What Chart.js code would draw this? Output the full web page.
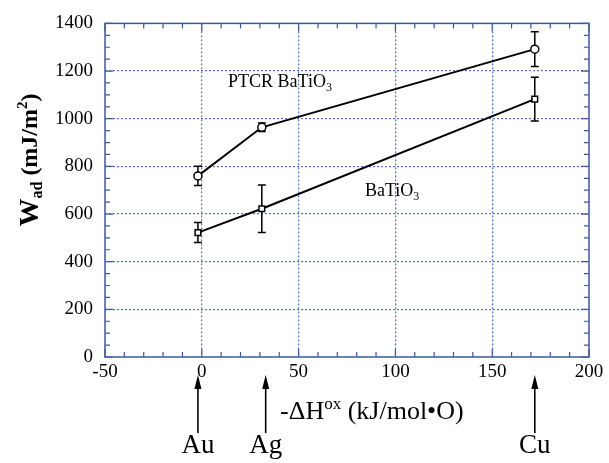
<!DOCTYPE html>
<html>
<head>
<meta charset="utf-8">
<script src="https://cdn.jsdelivr.net/npm/chart.js@4.4.1/dist/chart.umd.min.js"></script>
<style>
  html, body { margin: 0; padding: 0; background: #fff; }
  #wrap { width: 609px; height: 463px; }
</style>
</head>
<body>
<div id="wrap"><canvas id="wadChart" width="609" height="463"></canvas></div>
<script>
// ==== data ====
const metals = ['Au', 'Ag', 'Cu'];
const dHox = [-2, 31, 172];              // -dH ox, kJ/mol O
const arrowX = [-2, 33, 172];            // where the metal arrows sit
const ptcrWad = [760, 964, 1292];        // PTCR BaTiO3
const ptcrErr = [40, 18, 73];
const batioWad = [522, 622, 1082];       // BaTiO3
const batioErr = [42, 100, 92];
const xTicks = [-50, 0, 50, 100, 150, 200];
const yTicks = [0, 200, 400, 600, 800, 1000, 1200, 1400];

const BLUE = '#3a58a6';
const GRID = '#4f72c8';
const SERIF = "'Liberation Serif', 'DejaVu Serif', serif";

const toPoints = (xs, ys) => xs.map((x, i) => ({ x: x, y: ys[i] }));

// draws a run of text pieces (sub/superscripts) starting at x
function drawRich(c, parts, x, y, centered) {
  let total = 0;
  parts.forEach(p => { c.font = p.font; total += c.measureText(p.text).width; });
  let cx = centered ? x - total / 2 : x;
  parts.forEach(p => {
    c.font = p.font;
    c.fillText(p.text, cx, y + (p.dy || 0));
    cx += c.measureText(p.text).width;
  });
}

// ==== error bars, frame, minor ticks, labels ====
const decorPlugin = {
  id: 'decor',
  beforeDatasetsDraw(chart) {
    const c = chart.ctx;
    const xs = chart.scales.x, ys = chart.scales.y;
    c.save();
    c.strokeStyle = '#000';
    c.lineWidth = 1.5;
    [[ptcrWad, ptcrErr], [batioWad, batioErr]].forEach(([vals, errs]) => {
      vals.forEach((v, i) => {
        const px = xs.getPixelForValue(dHox[i]);
        const top = ys.getPixelForValue(v + errs[i]);
        const bot = ys.getPixelForValue(v - errs[i]);
        c.beginPath();
        c.moveTo(px, top); c.lineTo(px, bot);
        c.moveTo(px - 4, top); c.lineTo(px + 4, top);
        c.moveTo(px - 4, bot); c.lineTo(px + 4, bot);
        c.stroke();
      });
    });
    c.restore();
  },
  afterDraw(chart) {
    const c = chart.ctx;
    const a = chart.chartArea;
    const xs = chart.scales.x, ys = chart.scales.y;
    c.save();

    // frame
    c.strokeStyle = BLUE;
    c.lineWidth = 1.5;
    c.strokeRect(a.left, a.top, a.right - a.left, a.bottom - a.top);

    // inward ticks on all four sides
    c.lineWidth = 1.2;
    c.beginPath();
    for (let v = -50; v <= 200; v += 10) {
      const px = xs.getPixelForValue(v);
      const len = v % 50 === 0 ? 8 : 5;
      c.moveTo(px, a.bottom); c.lineTo(px, a.bottom - len);
      c.moveTo(px, a.top); c.lineTo(px, a.top + len);
    }
    for (let v = 0; v <= 1400; v += 50) {
      const py = ys.getPixelForValue(v);
      const len = v % 200 === 0 ? 8 : 5;
      c.moveTo(a.left, py); c.lineTo(a.left + len, py);
      c.moveTo(a.right, py); c.lineTo(a.right - len, py);
    }
    c.stroke();

    c.fillStyle = '#000';
    c.textBaseline = 'middle';

    // curve labels
    drawRich(c, [
      { text: 'PTCR BaTiO', font: '18px ' + SERIF },
      { text: '3', font: '12px ' + SERIF, dy: 6 }
    ], 228, 82, false);
    drawRich(c, [
      { text: 'BaTiO', font: '18px ' + SERIF },
      { text: '3', font: '12px ' + SERIF, dy: 6 }
    ], 365, 191, false);

    // x title
    drawRich(c, [
      { text: '-\u0394H', font: '26px ' + SERIF },
      { text: 'ox', font: '17px ' + SERIF, dy: -7 },
      { text: ' (kJ/mol\u2022O)', font: '26px ' + SERIF }
    ], 280, 412, false);

    // metal arrows and names
    c.strokeStyle = '#000';
    c.lineWidth = 1.6;
    c.textAlign = 'left';
    arrowX.forEach((v, i) => {
      const px = xs.getPixelForValue(v);
      c.beginPath();
      c.moveTo(px, 382); c.lineTo(px, 433);
      c.stroke();
      c.beginPath();
      c.moveTo(px, 375); c.lineTo(px - 3.5, 389); c.lineTo(px + 3.5, 389);
      c.closePath();
      c.fill();
      drawRich(c, [{ text: metals[i], font: '27px ' + SERIF }], px, 446, true);
    });

    // y title, rotated
    c.translate(31, 160);
    c.rotate(-Math.PI / 2);
    drawRich(c, [
      { text: 'W', font: 'bold 28px ' + SERIF },
      { text: 'ad', font: 'bold 16px ' + SERIF, dy: 7 },
      { text: ' (mJ/m', font: 'bold 24px ' + SERIF },
      { text: '2', font: 'bold 15px ' + SERIF, dy: -8 },
      { text: ')', font: 'bold 24px ' + SERIF }
    ], 0, 0, true);

    c.restore();
  }
};

const gridColor = (ctx) => {
  const v = ctx.tick ? ctx.tick.value : null;
  const edge = ctx.scale.axis === 'x' ? (v === -50 || v === 200) : (v === 0 || v === 1400);
  return edge ? 'rgba(0,0,0,0)' : GRID;
};

new Chart(document.getElementById('wadChart'), {
  type: 'scatter',
  data: {
    datasets: [
      {
        label: 'PTCR BaTiO3',
        data: toPoints(dHox, ptcrWad),
        showLine: true,
        borderColor: '#000',
        borderWidth: 2,
        pointStyle: 'circle',
        pointRadius: 4,
        pointBackgroundColor: '#fff',
        pointBorderColor: '#000',
        pointBorderWidth: 1.5
      },
      {
        label: 'BaTiO3',
        data: toPoints(dHox, batioWad),
        showLine: true,
        borderColor: '#000',
        borderWidth: 2,
        pointStyle: 'rect',
        pointRadius: 4,
        pointBackgroundColor: '#fff',
        pointBorderColor: '#000',
        pointBorderWidth: 1.5
      }
    ]
  },
  options: {
    responsive: false,
    animation: false,
    layout: { autoPadding: false, padding: { left: 0, right: 20, top: 19, bottom: 0 } },
    plugins: { legend: { display: false }, tooltip: { enabled: false } },
    scales: {
      x: {
        type: 'linear',
        min: -50, max: 200,
        afterBuildTicks: (s) => { s.ticks = xTicks.map(v => ({ value: v })); },
        afterFit: (s) => { s.height = 106; },
        grid: { color: gridColor, lineWidth: 1.2, drawTicks: false },
        border: { display: false, dash: [2, 2] },
        ticks: { color: '#000', padding: 4, font: { family: SERIF, size: 19 }, callback: (v) => String(v) }
      },
      y: {
        min: 0, max: 1400,
        afterBuildTicks: (s) => { s.ticks = yTicks.map(v => ({ value: v })); },
        afterFit: (s) => { s.width = 105; },
        grid: { color: gridColor, lineWidth: 1.2, drawTicks: false },
        border: { display: false, dash: [2, 2] },
        ticks: { color: '#000', padding: 12, font: { family: SERIF, size: 19 }, callback: (v) => String(v) }
      }
    }
  },
  plugins: [decorPlugin]
});
</script>
</body>
</html>
